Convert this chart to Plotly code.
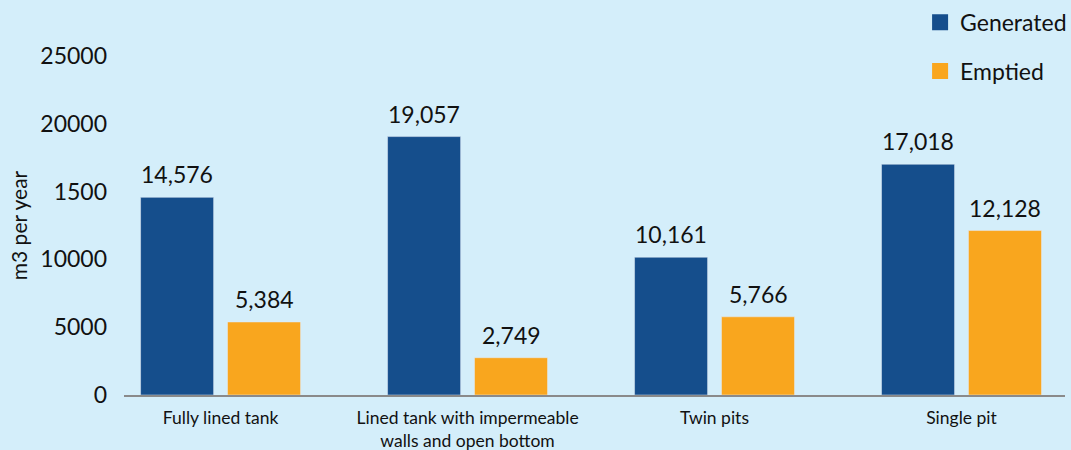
import plotly.graph_objects as go

categories = ["Fully lined tank",
              "Lined tank with impermeable<br>walls and open bottom",
              "Twin pits",
              "Single pit"]
generated = [14576, 19057, 10161, 17018]
emptied = [5384, 2749, 5766, 12128]
y_tickvals = [0, 5000, 10000, 15000, 20000, 25000]
y_ticktext = ["0", "5000", "10000", "1500", "20000", "25000"]

BLUE = "#154E8C"
ORANGE = "#F9A61E"
BG = "#D4EEFA"
FONT = "Lato"

fig = go.Figure()
fig.add_trace(go.Bar(x=categories, y=generated, marker_color=BLUE, showlegend=False))
fig.add_trace(go.Bar(x=categories, y=emptied, marker_color=ORANGE, showlegend=False))

# value labels sit a bit higher above the bars than plotly's outside text
for vals, shift in [(generated, -43.5), (emptied, 43.5)]:
    for cat, v in zip(categories, vals):
        fig.add_annotation(x=cat, y=v, text=f"{v:,}", showarrow=False,
                           xshift=shift, yshift=7, yanchor="bottom",
                           font=dict(size=23, color="#111"))

# legend entries with larger square swatches
fig.add_trace(go.Scatter(x=[None], y=[None], mode="markers", name="Generated",
                         marker=dict(symbol="square", size=17, color=BLUE),
                         legendgroup="g"))
fig.add_trace(go.Scatter(x=[None], y=[None], mode="markers", name="Emptied",
                         marker=dict(symbol="square", size=17, color=ORANGE),
                         legendgroup="e"))

fig.update_layout(
    width=1071, height=450,
    barmode="group", bargap=0.296, bargroupgap=0.16,
    paper_bgcolor=BG, plot_bgcolor=BG,
    font=dict(family=FONT, color="#111"),
    margin=dict(l=124, r=6, t=56, b=55, autoexpand=False),
    legend=dict(x=0.846, y=1.163, xanchor="left", yanchor="top",
                font=dict(size=23), traceorder="grouped", tracegroupgap=16,
                bgcolor="rgba(0,0,0,0)"),
    xaxis=dict(range=[-0.391, 3.419], showline=True, linecolor="#8a8a8a",
               linewidth=1.5, tickfont=dict(size=17.5), showgrid=False,
               ticks="", ticklabelstandoff=6, automargin=False),
    yaxis=dict(range=[0, 25000], tickvals=y_tickvals, ticktext=y_ticktext,
               showgrid=False, zeroline=False, tickfont=dict(size=23),
               ticks="", ticklabelstandoff=16, automargin=False,
               title=dict(text="m3 per year", font=dict(size=21), standoff=6)),
)

fig.write_html("out.html", config={"displayModeBar": False},
               post_script="document.body.style.margin='0';")
